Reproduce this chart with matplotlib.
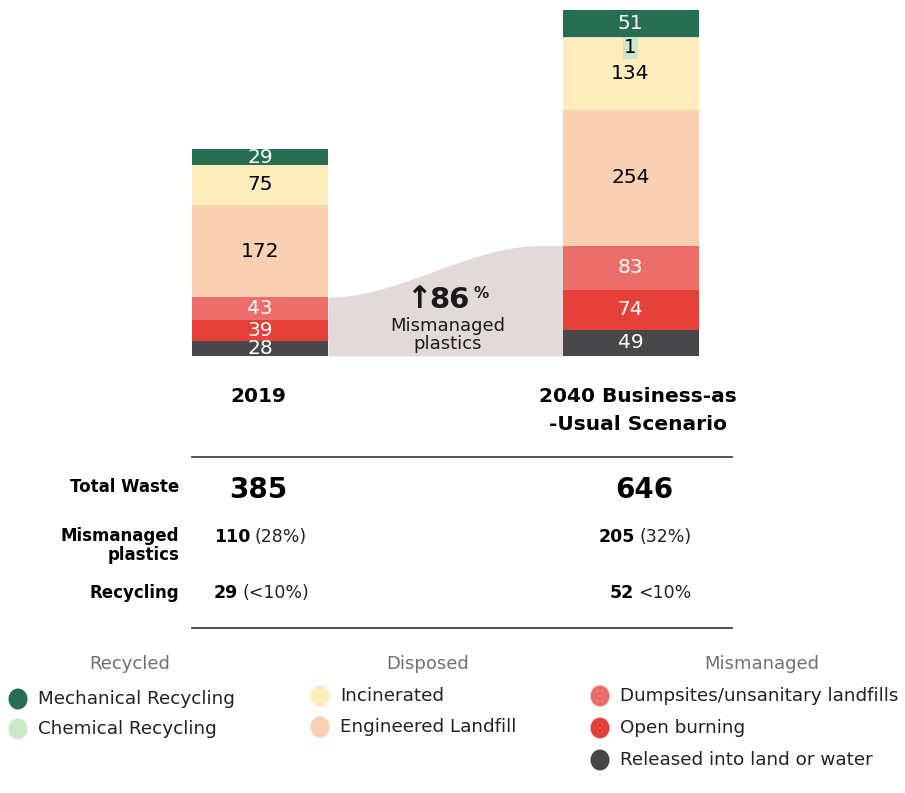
import matplotlib
matplotlib.use("Agg")
import matplotlib.pyplot as plt
import numpy as np

plt.rcParams['font.family'] = ['DejaVu Sans']

# ---------------- data ----------------
categories = ["2019", "2040 Business-as\n-Usual Scenario"]
series_names = ["Released into land or water", "Open burning", "Dumpsites/unsanitary landfills",
                "Engineered Landfill", "Incinerated", "Chemical Recycling", "Mechanical Recycling"]
released = [28, 49]
open_burning = [39, 74]
dumpsites = [43, 83]
engineered_landfill = [172, 254]
incinerated = [75, 134]
chemical_recycling = [0, 1]
mechanical_recycling = [29, 51]

total_waste = [385, 646]
mismanaged_vals = [110, 205]
mismanaged_pct = ["(28%)", "(32%)"]
recycling_vals = [29, 52]
recycling_pct = ["(<10%)", "<10%"]
mismanaged_change = "86"

colors = {
    "Released into land or water": "#48484b",
    "Open burning": "#e5403a",
    "Dumpsites/unsanitary landfills": "#eb6e6b",
    "Engineered Landfill": "#f9d1b2",
    "Incinerated": "#feedbc",
    "Chemical Recycling": "#cde5c8",
    "Mechanical Recycling": "#276d51",
}
label_colors = {
    "Released into land or water": "white",
    "Open burning": "white",
    "Dumpsites/unsanitary landfills": "white",
    "Engineered Landfill": "black",
    "Incinerated": "black",
    "Chemical Recycling": "black",
    "Mechanical Recycling": "white",
}

W, H = 905, 793
fig = plt.figure(figsize=(W / 100, H / 100), dpi=100)


def fx(x):
    return x / W


def fy(y):
    return 1 - y / H


# ---------------- bars ----------------
bar_bottom_px, bar_top_px = 356, 10
ax = fig.add_axes([0, fy(bar_bottom_px), 1, (bar_bottom_px - bar_top_px) / H])
px_per_unit = 630.5 - 260
ax.set_xlim(-260 / px_per_unit, (W - 260) / px_per_unit)
ymax = sum(s[1] for s in [released, open_burning, dumpsites, engineered_landfill,
                          incinerated, chemical_recycling, mechanical_recycling])
ax.set_ylim(0, ymax)
ax.axis("off")

bar_w = 136 / px_per_unit
xs = np.arange(len(categories))
all_series = [released, open_burning, dumpsites, engineered_landfill,
              incinerated, chemical_recycling, mechanical_recycling]
bottom = np.zeros(len(categories))
for name, vals in zip(series_names, all_series):
    vals = np.array(vals, dtype=float)
    ax.bar(xs, vals, bottom=bottom, width=bar_w, color=colors[name], zorder=3, linewidth=0)
    for i, v in enumerate(vals):
        if v <= 0:
            continue
        yc = bottom[i] + v / 2
        if name == "Chemical Recycling":
            ax.text(xs[i], bottom[i] - 1, f"{int(v)}", ha="center", va="top", fontsize=14,
                    color="black", zorder=5,
                    bbox=dict(boxstyle="square,pad=0.08", facecolor=colors[name], edgecolor="none"))
        else:
            ax.text(xs[i], yc, f"{int(v)}", ha="center", va="center", fontsize=14.5,
                    color=label_colors[name], zorder=5)
    bottom += vals

# mismanaged flow band
mis = [released[i] + open_burning[i] + dumpsites[i] for i in range(2)]
bx = np.linspace(xs[0] + bar_w / 2, xs[1] - bar_w / 2, 200)
t = (bx - bx[0]) / (bx[-1] - bx[0])
t2 = np.clip(t / 0.9, 0, 1)
s = t2 * t2 * (3 - 2 * t2)
by = mis[0] + (mis[1] - mis[0]) * s
ax.fill_between(bx, 0, by, color="#e2d9d9", linewidth=0, zorder=1)

fig.canvas.draw()
renderer = fig.canvas.get_renderer()

# annotation in band
ta = fig.text(fx(406), fy(300), "↑", ha="left", va="center",
              fontsize=22, fontweight="bold", color="#1a1a1a")
bb = ta.get_window_extent(renderer=renderer)
tn = fig.text(fx(bb.x1 - 2), fy(300), mismanaged_change, ha="left", va="center",
              fontsize=21, fontweight="bold", color="#1a1a1a")
bb = tn.get_window_extent(renderer=renderer)
fig.text(fx(bb.x1 + 4), fy(293), "%", ha="left", va="center", fontsize=11, fontweight="bold", color="#1a1a1a")
fig.text(fx(448), fy(326), "Mismanaged", ha="center", va="center", fontsize=13, color="#1a1a1a")
fig.text(fx(448), fy(344), "plastics", ha="center", va="center", fontsize=13, color="#1a1a1a")

# ---------------- category labels ----------------
fig.text(fx(258), fy(396), categories[0], ha="center", va="center", fontsize=14.5, fontweight="bold")
cat2 = categories[1].split("\n")
fig.text(fx(638), fy(396), cat2[0], ha="center", va="center", fontsize=14.5, fontweight="bold")
fig.text(fx(638), fy(424), cat2[1], ha="center", va="center", fontsize=14.5, fontweight="bold")

# ---------------- table ----------------
for yl in (457, 628):
    fig.add_artist(plt.Line2D([fx(192), fx(732)], [fy(yl), fy(yl)], color="#333333", lw=1.2))

fig.text(fx(179), fy(487), "Total Waste", ha="right", va="center", fontsize=12, fontweight="bold")
fig.text(fx(179), fy(536), "Mismanaged", ha="right", va="center", fontsize=12, fontweight="bold")
fig.text(fx(179), fy(555), "plastics", ha="right", va="center", fontsize=12, fontweight="bold")
fig.text(fx(179), fy(593), "Recycling", ha="right", va="center", fontsize=12, fontweight="bold")

fig.text(fx(258), fy(490), f"{total_waste[0]}", ha="center", va="center", fontsize=20, fontweight="bold")
fig.text(fx(644), fy(490), f"{total_waste[1]}", ha="center", va="center", fontsize=20, fontweight="bold")


def mixed(x, y, bold, normal, size=12.5):
    tb = fig.text(fx(x), fy(y), bold, ha="left", va="center", fontsize=size, fontweight="bold")
    bb = tb.get_window_extent(renderer=renderer)
    fig.text(fx(bb.x1 + 4), fy(y), normal, ha="left", va="center", fontsize=size, color="#222222")


mixed(214, 537, f"{mismanaged_vals[0]}", mismanaged_pct[0])
mixed(599, 537, f"{mismanaged_vals[1]}", mismanaged_pct[1])
mixed(214, 593, f"{recycling_vals[0]}", recycling_pct[0])
mixed(610, 593, f"{recycling_vals[1]}", recycling_pct[1])

# ---------------- legend ----------------
groups = [
    ("Recycled", 130, 18, ["Mechanical Recycling", "Chemical Recycling"]),
    ("Disposed", 428, 320, ["Incinerated", "Engineered Landfill"]),
    ("Mismanaged", 762, 600, ["Dumpsites/unsanitary landfills", "Open burning", "Released into land or water"]),
]
row_y = {18: [699, 729], 320: [696, 727], 600: [696, 728, 760]}
for title, cx, mx, items in groups:
    fig.text(fx(cx), fy(664), title, ha="center", va="center", fontsize=13, color="#707070")
    for name, y in zip(items, row_y[mx]):
        fig.add_artist(matplotlib.patches.Ellipse((fx(mx), fy(y)), 19 / W, 21 / H,
                                                  transform=fig.transFigure,
                                                  facecolor=colors[name], edgecolor="none"))
        fig.text(fx(mx + 20), fy(y), name, ha="left", va="center", fontsize=13.2, color="#222222")

fig.savefig("out.png", dpi=100)
